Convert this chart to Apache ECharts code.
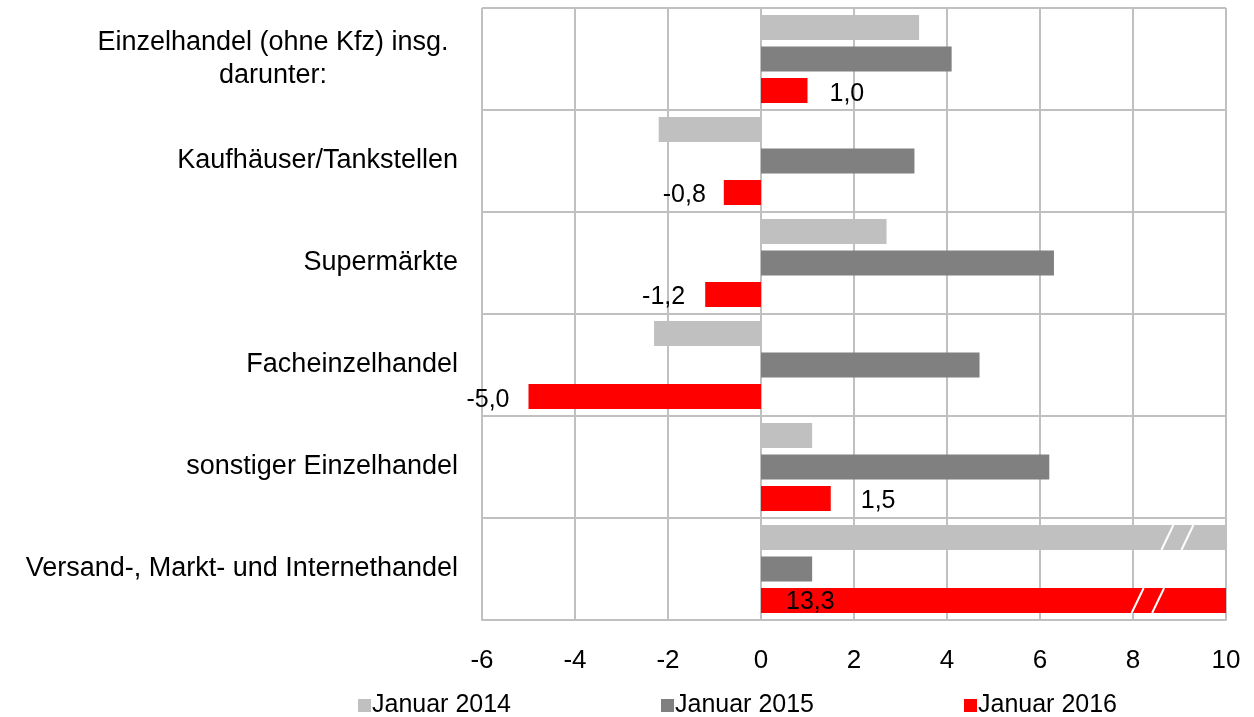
<!DOCTYPE html>
<html>
<head>
<meta charset="utf-8">
<script src="https://cdn.jsdelivr.net/npm/echarts@6/dist/echarts.min.js"></script>
<style>
  html, body { margin: 0; padding: 0; background: #fff; }
  #main { width: 1254px; height: 717px; }
</style>
</head>
<body>
<div id="main"></div>
<script>
  // Kategorien von oben nach unten
  var categories = [
    'Einzelhandel (ohne Kfz) insg.\ndarunter:',
    'Kaufhäuser/Tankstellen',
    'Supermärkte',
    'Facheinzelhandel',
    'sonstiger Einzelhandel',
    'Versand-, Markt- und Internethandel'
  ];
  var seriesNames = ['Januar 2014', 'Januar 2015', 'Januar 2016'];
  var jan2014 = [3.4, -2.2, 2.7, -2.3, 1.1, 12.0];
  var jan2015 = [4.1, 3.3, 6.3, 4.7, 6.2, 1.1];
  var jan2016 = [1.0, -0.8, -1.2, -5.0, 1.5, 13.3];
  var xTicks = [-6, -4, -2, 0, 2, 4, 6, 8, 10];
  // Bruchstriche auf den abgeschnittenen Balken: [Wert, Kategorie, Balkenindex]
  var breakMarks = [
    [8.74, 5, 0], [9.17, 5, 0],
    [8.10, 5, 2], [8.54, 5, 2]
  ];

  var colors = ['#c0c0c0', '#808080', '#ff0000'];
  var font = 'Liberation Sans, Arial, sans-serif';
  var barW = 25;
  var barGapRatio = 0.26;

  function fmt(v) {
    return v.toFixed(1).replace('.', ',');
  }

  // Beschriftungen der Jan-2016-Balken
  var labelPos = [
    {position: 'right', distance: 22, offset: [0, 4]},
    {position: 'left', distance: 18, offset: [0, 3]},
    {position: 'left', distance: 20, offset: [0, 3]},
    {position: 'left', distance: 19, offset: [0, 4]},
    {position: 'right', distance: 30, offset: [0, 3]},
    {position: 'insideLeft', distance: 25, offset: [0, 2]}
  ];
  var data2016 = jan2016.map(function (v, i) {
    return {
      value: v,
      label: {
        show: true,
        position: labelPos[i].position,
        distance: labelPos[i].distance,
        offset: labelPos[i].offset,
        formatter: function (p) { return fmt(p.value); },
        color: '#000',
        fontSize: 25,
        fontFamily: font
      }
    };
  });

  var myChart = echarts.init(document.getElementById('main'));
  var option = {
    animation: false,
    color: colors,
    grid: {
      left: 482,
      right: 28,
      top: 8,
      bottom: 97
    },
    legend: {
      data: seriesNames,
      bottom: -6,
      left: 353,
      itemWidth: 13,
      itemHeight: 13,
      itemGap: 150,
      icon: 'rect',
      textStyle: {
        fontSize: 25,
        fontFamily: font,
        color: '#000',
        padding: [3, 0, 0, -4]
      }
    },
    xAxis: {
      type: 'value',
      min: -6,
      max: 10,
      interval: 2,
      axisLine: {show: true, lineStyle: {color: '#c0c0c0', width: 2}},
      axisTick: {show: false},
      splitLine: {show: true, lineStyle: {color: '#c0c0c0', width: 2}},
      axisLabel: {
        margin: 28,
        fontSize: 26,
        fontFamily: font,
        color: '#000',
        formatter: function (v) { return xTicks.indexOf(v) >= 0 ? String(v) : ''; }
      }
    },
    yAxis: {
      type: 'category',
      inverse: true,
      data: categories,
      axisLine: {show: false},
      axisTick: {show: false},
      splitLine: {show: true, lineStyle: {color: '#c0c0c0', width: 2}},
      axisLabel: {
        margin: 24,
        fontSize: 27,
        fontFamily: font,
        color: '#000',
        lineHeight: 33,
        formatter: function (v) {
          if (v.indexOf('\n') >= 0) {
            return v.split('\n').map(function (s) { return '{c|' + s + '}'; }).join('\n');
          }
          return v;
        },
        rich: {
          c: {
            width: 370,
            align: 'center',
            fontSize: 27,
            fontFamily: font,
            color: '#000',
            lineHeight: 33
          }
        }
      }
    },
    series: [
      {
        name: seriesNames[0],
        type: 'bar',
        barWidth: barW,
        barGap: (barGapRatio * 100) + '%',
        data: jan2014
      },
      {
        name: seriesNames[1],
        type: 'bar',
        barWidth: barW,
        barGap: (barGapRatio * 100) + '%',
        data: jan2015
      },
      {
        name: seriesNames[2],
        type: 'bar',
        barWidth: barW,
        barGap: (barGapRatio * 100) + '%',
        data: data2016
      },
      {
        type: 'custom',
        silent: true,
        z: 10,
        renderItem: function (params, api) {
          var pt = api.coord([api.value(0), api.value(1)]);
          var off = (api.value(2) - 1) * barW * (1 + barGapRatio);
          var cy = pt[1] + off;
          var h = barW / 2;
          return {
            type: 'line',
            shape: {x1: pt[0] - 6, y1: cy + h, x2: pt[0] + 6, y2: cy - h},
            style: {stroke: '#fff', lineWidth: 2}
          };
        },
        data: breakMarks
      }
    ]
  };
  myChart.setOption(option);
</script>
</body>
</html>
